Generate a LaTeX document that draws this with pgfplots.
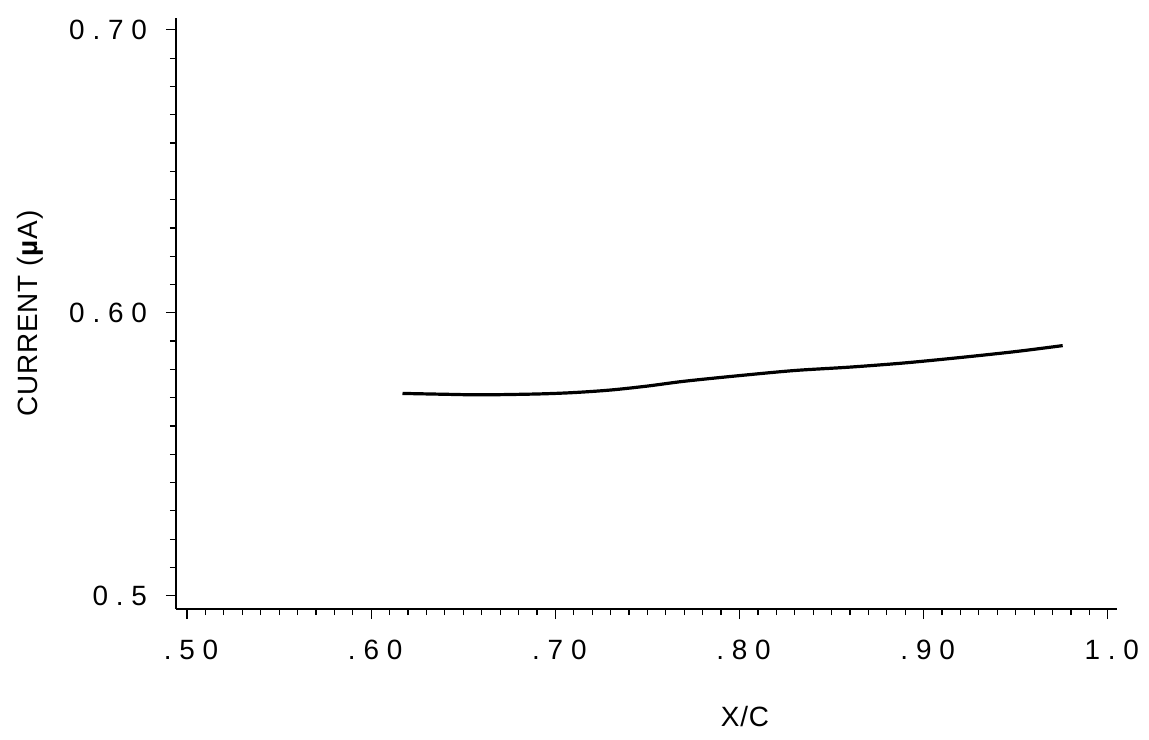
\documentclass[border=0pt]{standalone}
\usepackage{pgfplots}
\pgfplotsset{compat=1.18}
\usepackage{fontspec}
\setmainfont{Liberation Sans}
\newfontfamily\tickfont[LetterSpace=28]{Liberation Sans}
\newfontfamily\labfont[LetterSpace=3]{Liberation Sans}
\begin{document}
\begin{tikzpicture}
\useasboundingbox (-88bp,-65.5bp) rectangle (486.5bp,304.5bp);
\begin{axis}[
  at={(0,0)}, anchor=south west,
  scale only axis,
  width=470.5bp, height=295.5bp,
  xmin=0.494, xmax=1.005,
  ymin=0.4953, ymax=0.7042,
  axis x line*=bottom, axis y line*=left,
  axis line style={line width=1bp},
  xtick={0.5,0.6,0.7,0.8,0.9,1.0},
  xticklabels={.50,.60,.70,.80,.90,1.0},
  minor x tick num=9,
  ytick={0.5,0.6,0.7},
  yticklabels={0.5,0.60,0.70},
  minor y tick num=9,
  tick align=outside,
  major tick length=5bp, minor tick length=3bp,
  tick style={black, line width=0.6bp},
  xticklabel style={font=\fontsize{14}{14}\tickfont, xshift=2bp, yshift=-7bp},
  yticklabel style={font=\fontsize{14}{14}\tickfont, xshift=-6bp},
  xlabel={X/C},
  ylabel={CURRENT (\textbf{µ}A)},
  label style={font=\fontsize{14}{14}\labfont},
  xlabel style={at={(axis description cs:0,0)}, anchor=center, xshift=284.5bp, yshift=-54bp},
  ylabel style={at={(axis description cs:0,0.5)}, anchor=center, yshift=73bp},
]
\addplot[black, line width=1.6bp, smooth] coordinates {
(0.617,0.5715) (0.64,0.5712) (0.66,0.5710) (0.69,0.5713) (0.71,0.5718)
(0.73,0.5727) (0.75,0.5741) (0.77,0.5758) (0.80,0.5778) (0.83,0.5796)
(0.86,0.5808) (0.89,0.5823) (0.92,0.5842) (0.95,0.5863) (0.9755,0.5884)
};
\end{axis}
\end{tikzpicture}
\end{document}
